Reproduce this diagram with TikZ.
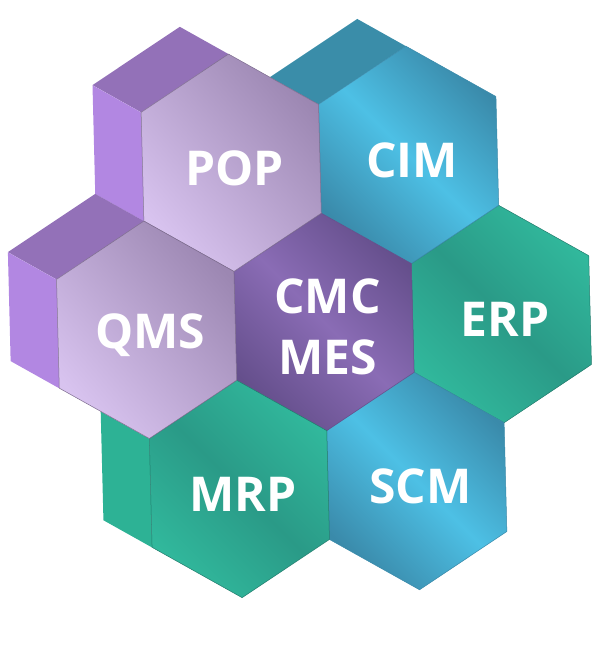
\documentclass[tikz,border=0pt]{standalone}
\usepackage{fontspec}
\setmainfont{Open Sans}

% colours
\definecolor{lavlight}{HTML}{D8C3EF}
\definecolor{lavdark}{HTML}{9C87B2}
\definecolor{purptop}{HTML}{9371B8}
\definecolor{purpside}{HTML}{B287E2}
\definecolor{mauvemid}{HTML}{8A6CB5}
\definecolor{mauvedark}{HTML}{654F8C}
\definecolor{cyanmid}{HTML}{4DC0E5}
\definecolor{cyandark}{HTML}{3A8AAA}
\definecolor{tealtop}{HTML}{3A8DA9}
\definecolor{greenlight}{HTML}{31B89C}
\definecolor{greendark}{HTML}{2A9A87}
\definecolor{greenside}{HTML}{2DB295}

% hexagon around a centre, and the two faces of its back part
\newcommand{\hexpath}[1]{(#1) ++(0,-0.667) -- ++(0.5,0.333) -- ++(0,0.667) -- ++(-0.5,0.333) -- ++(-0.5,-0.333) -- ++(0,-0.667) -- cycle}
\newcommand{\topface}[1]{(#1) ++(0,-0.667) -- ++(-0.5,0.333) -- ++(-0.27,-0.18) -- ++(0.5,-0.333) -- cycle}
\newcommand{\sideface}[1]{(#1) ++(-0.5,-0.333) -- ++(0,0.667) -- ++(-0.27,-0.18) -- ++(0,-0.667) -- cycle}

\begin{document}
\begin{tikzpicture}[x=1pt, y=-1pt,
  hexlabel/.style={text=white, font=\fontsize{48}{61}\selectfont\bfseries, align=center, xshift=3.5pt, yshift=-5pt},
  lavface/.style={left color=lavdark, right color=lavlight, shading angle=-50, draw=lavdark!80!black, line width=0.5pt},
  mauveface/.style={left color=mauvedark, right color=mauvedark, middle color=mauvemid, shading angle=-45, draw=mauvedark, line width=0.5pt},
  cyanface/.style={left color=cyandark, right color=cyandark, middle color=cyanmid, shading angle=-45, draw=cyandark, line width=0.5pt},
  greenface/.style={left color=greenlight, right color=greenlight, middle color=greendark, shading angle=-45, draw=greendark!80!black, line width=0.5pt},
  purpletop/.style={fill=purptop},
  purpleside/.style={fill=purpside}]

\useasboundingbox (0,0) rectangle (601,650);

% honeycomb, slightly tilted
\begin{scope}[shift={(324,322)}, x={(177.4pt,7.9pt)}, y={(4.1pt,-163.1pt)}]

% Centres
\coordinate (cmc) at (0,0);
\coordinate (erp) at (1,0);
\coordinate (cim) at (0.5,-1);
\coordinate (pop) at (-0.5,-1);
\coordinate (qms) at (-1,0);
\coordinate (mrp) at (-0.5,1);
\coordinate (scm) at (0.5,1);

% ERP
\draw[greenface] \hexpath{erp};

% CIM
\fill[tealtop] \topface{cim};
\draw[cyanface] \hexpath{cim};

% SCM
\draw[cyanface] \hexpath{scm};

% CMC MES
\draw[mauveface] \hexpath{cmc};

% POP
\fill[purpletop] \topface{pop};
\fill[purpleside] \sideface{pop};
\draw[lavface] \hexpath{pop};

% MRP
\fill[greenside] \sideface{mrp};
\draw[greenface] \hexpath{mrp};

% QMS
\fill[purpletop] \topface{qms};
\fill[purpleside] \sideface{qms};
\draw[lavface] \hexpath{qms};

% Labels
\node[hexlabel] (poplabel) at (pop) {POP};
\node[hexlabel] (cimlabel) at (cim) {CIM};
\node[hexlabel] (qmslabel) at (qms) {QMS};
\node[hexlabel] (cmclabel) at (cmc) {CMC\\MES};
\node[hexlabel] (erplabel) at (erp) {ERP};
\node[hexlabel] (mrplabel) at (mrp) {MRP};
\node[hexlabel] (scmlabel) at (scm) {SCM};

\end{scope}

\end{tikzpicture}
\end{document}
